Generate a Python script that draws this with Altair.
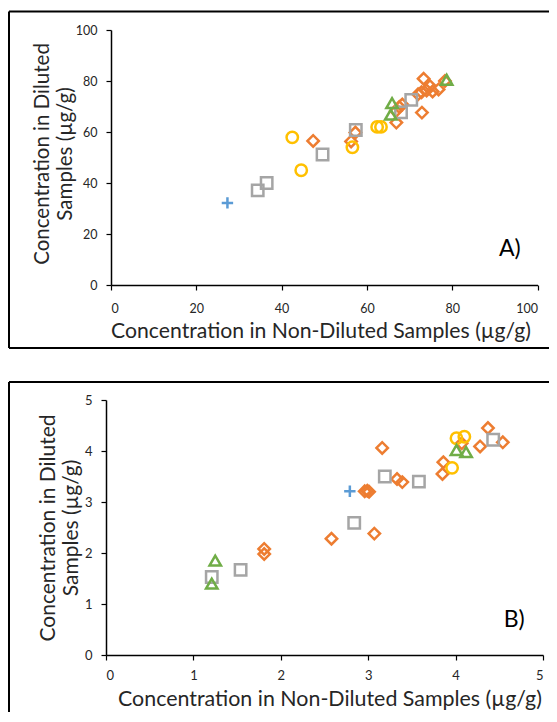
import altair as alt
import pandas as pd

# ---------------- data ----------------
series = ["blue", "orange", "gray", "yellow", "green"]
colors = ["#5B9BD5", "#ED7D31", "#A5A5A5", "#FFC000", "#70AD47"]
shapes = ["M-1,0H1M0,-1V1", "diamond", "square", "circle", "triangle-up"]

# Panel A
a_blue_x = [27.3]
a_blue_y = [32.2]
a_orange_x = [47.4, 56.3, 57.3, 66.9, 66.8, 67.6, 68.3, 72.9, 72.0, 72.8, 73.3, 74.0, 74.8, 75.4, 76.8, 78.3]
a_orange_y = [56.5, 56.3, 59.8, 63.7, 68.2, 69.8, 70.8, 67.6, 74.8, 75.6, 80.9, 76.3, 78.0, 75.9, 76.7, 80.0]
a_gray_x = [34.4, 36.5, 49.6, 57.4, 68.0, 70.4]
a_gray_y = [37.1, 40.0, 51.2, 60.8, 67.7, 72.6]
a_yellow_x = [42.5, 44.6, 56.6, 62.4, 63.3]
a_yellow_y = [57.9, 45.0, 54.0, 62.0, 62.0]
a_green_x = [65.9, 65.6, 78.7]
a_green_y = [71.3, 66.8, 80.5]

# Panel B
b_blue_x = [2.79]
b_blue_y = [3.21]
b_orange_x = [1.81, 1.81, 2.58, 3.07, 2.96, 2.99, 3.01, 3.16, 3.33, 3.39, 3.86, 3.85, 4.07, 4.28, 4.37, 4.54]
b_orange_y = [2.08, 1.98, 2.28, 2.38, 3.21, 3.22, 3.20, 4.06, 3.45, 3.39, 3.78, 3.55, 4.15, 4.09, 4.45, 4.17]
b_gray_x = [1.21, 1.54, 2.84, 3.19, 3.58, 4.43]
b_gray_y = [1.53, 1.67, 2.59, 3.50, 3.40, 4.22]
b_yellow_x = [3.96, 4.01, 4.10]
b_yellow_y = [3.67, 4.25, 4.28]
b_green_x = [1.25, 1.21, 4.01, 4.12]
b_green_y = [1.85, 1.40, 4.02, 3.98]

a_ticks = [0, 20, 40, 60, 80, 100]
b_ticks = [0, 1, 2, 3, 4, 5]

x_title = "Concentration in Non-Diluted Samples (µg/g)"
y_title = ["Concentration in Diluted", "Samples (µg/g)"]

FONT = "Lato"
W, H = 541, 704


def frame(xs_ys):
    rows = []
    for name, (xs, ys) in zip(series, xs_ys):
        for x, y in zip(xs, ys):
            rows.append({"s": name, "x": x, "y": y})
    return pd.DataFrame(rows)


df_a = frame([(a_blue_x, a_blue_y), (a_orange_x, a_orange_y), (a_gray_x, a_gray_y),
              (a_yellow_x, a_yellow_y), (a_green_x, a_green_y)])
df_b = frame([(b_blue_x, b_blue_y), (b_orange_x, b_orange_y), (b_gray_x, b_gray_y),
              (b_yellow_x, b_yellow_y), (b_green_x, b_green_y)])


def panel(df, ticks, xr, yr, label, lx, ly, xts, yts, lsize, xlp, xtp, ytp, tx, ty):
    dmax = ticks[-1]
    xenc = alt.X("x:Q", scale=alt.Scale(domain=[0, dmax], range=xr, nice=False, zero=False),
                 axis=alt.Axis(orient="bottom", offset=yr[0] - H, values=ticks, format="d",
                               title=x_title, titleFontSize=xts, titlePadding=xtp,
                               titleX=tx, titleAlign="center",
                               labelFontSize=lsize, labelPadding=xlp))
    yenc = alt.Y("y:Q", scale=alt.Scale(domain=[0, dmax], range=yr, nice=False, zero=False),
                 axis=alt.Axis(orient="left", offset=-xr[0], values=ticks, format="d",
                               title=y_title, titleFontSize=yts, titlePadding=ytp,
                               titleY=ty, titleAlign="center",
                               titleLineHeight=23, labelFontSize=lsize, labelPadding=9))
    pts = alt.Chart(df).mark_point(filled=False, size=130, strokeWidth=2.5, opacity=1).encode(
        x=xenc, y=yenc,
        color=alt.Color("s:N", scale=alt.Scale(domain=series, range=colors), legend=None),
        shape=alt.Shape("s:N", scale=alt.Scale(domain=series, range=shapes), legend=None),
    )
    lab = alt.Chart(pd.DataFrame({"x": [lx], "y": [ly], "t": [label]})).mark_text(
        font=FONT, fontSize=23, color="black", align="center", baseline="middle"
    ).encode(x=xenc, y=yenc, text="t:N")
    return alt.layer(pts, lab)


def hrule(y, x1, x2):
    return alt.Chart(pd.DataFrame({"k": [0]})).mark_rule(color="black", strokeWidth=2).encode(
        x=alt.value(x1), x2=alt.value(x2), y=alt.value(y))


def vrule(x, y1, y2):
    return alt.Chart(pd.DataFrame({"k": [0]})).mark_rule(color="black", strokeWidth=2).encode(
        x=alt.value(x), y=alt.value(y1), y2=alt.value(y2))


# plot-area ranges in pixels (inside the fixed canvas)
pa = panel(df_a, a_ticks, [103, 529.5], [277, 22], "A)", 93.5, 14.1,
           21.2, 20.5, 12.5, 12, 6, 0, 312.5, 145.5)
pb = panel(df_b, b_ticks, [98, 535], [647, 392], "B)", 4.67, 0.68,
           21.4, 21, 13, 9, 6, 3, 321.5, 519.5)

frame_a = [hrule(3.5, 1, W), vrule(1, 3.5, 340), hrule(340, 1, W)]
frame_b = [hrule(374, 1, W), vrule(1, 374, H)]

chart = alt.layer(*frame_a, *frame_b, pa, pb).resolve_scale(
    x="independent", y="independent"
).properties(
    width=W, height=H,
    autosize=alt.AutoSizeParams(type="none"),
    padding={"left": 0, "top": 0, "right": 0, "bottom": 0},
).configure_view(stroke=None).configure_axis(
    grid=False, domainColor="black", domainWidth=1.5, tickColor="black", tickWidth=1.2,
    tickSize=5, labelFont=FONT, labelColor="#262626",
    titleFont=FONT, titleFontWeight="normal", titleColor="#262626",
)

chart.save("out.html", embed_options={"renderer": "svg", "actions": False})
